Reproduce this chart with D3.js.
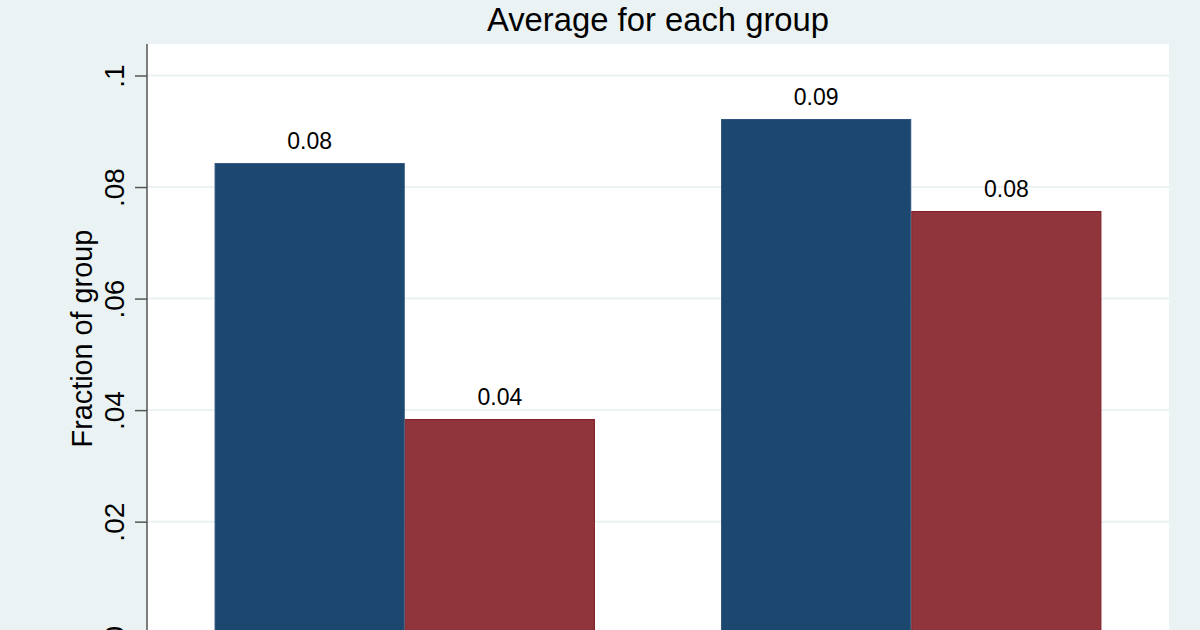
<!DOCTYPE html>
<html>
<head>
<meta charset="utf-8">
<script src="https://cdn.jsdelivr.net/npm/d3@7"></script>
<style>
  html, body { margin: 0; padding: 0; background: #EAF2F3; }
  svg { display: block; }
  text { font-family: "Liberation Sans", Arial, Helvetica, sans-serif; fill: #000; }
</style>
</head>
<body>
<svg id="chart" width="1200" height="630"></svg>
<script>
// ---- data ----
const groups = ["Group 1", "Group 2"];
const series = ["Series 1", "Series 2"];
const seriesOneValues = [0.0843, 0.0922];
const seriesTwoValues = [0.0384, 0.0757];
const seriesColors = ["#1C476E", "#90353B"];
const seriesStrokes = ["#2F5680", "#7E1F26"];
const yTickValues = [0, 0.02, 0.04, 0.06, 0.08, 0.1];
const yTickLabels = ["0", ".02", ".04", ".06", ".08", ".1"];
const titleText = "Average for each group";
const yTitleText = "Fraction of group";

// ---- layout ----
const W = 1200, H = 630;
const plot = { left: 147, right: 1169, top: 44, bottom: 700 };
const svg = d3.select("#chart");

svg.append("rect").attr("x", 0).attr("y", 0).attr("width", W).attr("height", H).attr("fill", "#EAF2F3");
svg.append("rect")
  .attr("x", plot.left).attr("y", plot.top)
  .attr("width", plot.right - plot.left).attr("height", plot.bottom - plot.top)
  .attr("fill", "#ffffff");

const y = d3.scaleLinear().domain([0, 0.1]).range([633.2, 75.5]);
const x0 = d3.scaleBand().domain(groups).range([plot.left, plot.right])
  .paddingInner(0.249).paddingOuter(0.1334);
const x1 = d3.scaleBand().domain(series).range([0, x0.bandwidth()]).padding(0);

// gridlines
svg.append("g").selectAll("line").data(yTickValues).join("line")
  .attr("x1", plot.left).attr("x2", plot.right)
  .attr("y1", d => y(d)).attr("y2", d => y(d))
  .attr("stroke", "#EAF2F3").attr("stroke-width", 2);

// bars
const rows = groups.map((g, i) => ({ group: g, vals: [seriesOneValues[i], seriesTwoValues[i]] }));
const gBars = svg.append("g").selectAll("g").data(rows).join("g")
  .attr("transform", d => `translate(${x0(d.group)},0)`);

gBars.selectAll("rect").data(d => d.vals.map((v, j) => ({ s: series[j], v, j }))).join("rect")
  .attr("x", d => x1(d.s) + 0.5)
  .attr("y", d => y(d.v) + 0.5)
  .attr("width", x1.bandwidth() - 1)
  .attr("height", d => y(0) - y(d.v) + 20)
  .attr("fill", d => seriesColors[d.j])
  .attr("stroke", d => seriesStrokes[d.j])
  .attr("stroke-width", 1);

const fmt = d3.format(".2f");
gBars.selectAll("text").data(d => d.vals.map((v, j) => ({ s: series[j], v, j }))).join("text")
  .attr("x", d => x1(d.s) + x1.bandwidth() / 2)
  .attr("y", d => y(d.v) - 14)
  .attr("text-anchor", "middle")
  .attr("font-size", 23)
  .text(d => fmt(d.v));

// y axis
const yAxis = d3.axisLeft(y).tickValues(yTickValues)
  .tickFormat((d, i) => yTickLabels[i]).tickSize(12).tickPadding(0);
const gy = svg.append("g").attr("transform", `translate(${plot.left},0)`).call(yAxis);
gy.select(".domain").remove();
gy.selectAll(".tick line").attr("stroke", "#555").attr("stroke-width", 1.5);
gy.selectAll(".tick text")
  .attr("x", null).attr("dy", null)
  .attr("transform", "translate(-23,0) rotate(-90)")
  .attr("text-anchor", "middle")
  .attr("font-size", 28)
  .attr("font-family", "'Liberation Sans', Arial, Helvetica, sans-serif")
  .attr("fill", "#000");
svg.append("line")
  .attr("x1", plot.left).attr("x2", plot.left)
  .attr("y1", plot.top).attr("y2", plot.bottom)
  .attr("stroke", "#555").attr("stroke-width", 1.5);

// y title
svg.append("text")
  .attr("transform", `translate(92,${(plot.top + 633.2) / 2}) rotate(-90)`)
  .attr("text-anchor", "middle")
  .attr("font-size", 28.8)
  .text(yTitleText);

// title
svg.append("text")
  .attr("x", (plot.left + plot.right) / 2)
  .attr("y", 31)
  .attr("text-anchor", "middle")
  .attr("font-size", 32.8)
  .text(titleText);
</script>
</body>
</html>
